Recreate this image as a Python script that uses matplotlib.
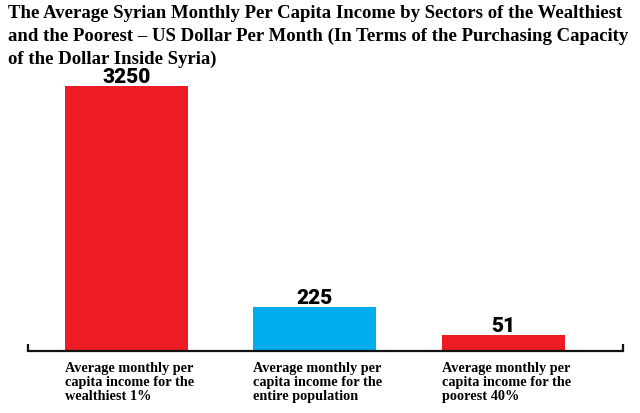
import numpy as np
import matplotlib
matplotlib.use("Agg")
import matplotlib.pyplot as plt

# data
categories = ["Average monthly per\ncapita income for the\nwealthiest 1%",
              "Average monthly per\ncapita income for the\nentire population",
              "Average monthly per\ncapita income for the\npoorest 40%"]
values = [3250, 225, 51]
colors = ["#ED1C24", "#00AEEF", "#ED1C24"]

title = ("The Average Syrian Monthly Per Capita Income by Sectors of the Wealthiest\n"
         "and the Poorest \u2013 US Dollar Per Month (In Terms of the Purchasing Capacity\n"
         "of the Dollar Inside Syria)")

fig = plt.figure(figsize=(6.4, 4.14), dpi=100)
# axes placed so the baseline sits where the original one is
ax = fig.add_axes([28/640, 62/414, 595/640, 265/414])

# the original bars are not drawn to a linear scale, a power scale is close
p = 0.67
ax.set_yscale("function", functions=(lambda v: np.sign(v)*np.abs(v)**p,
                                     lambda v: np.sign(v)*np.abs(v)**(1/p)))

x = np.arange(len(values))
w = 0.653
bars = ax.bar(x, values, width=w, color=colors)
ax.set_xlim(-0.523, 2.637)
ax.set_ylim(0, max(values))

for b, v in zip(bars, values):
    ax.text(b.get_x() + b.get_width()/2, v, str(v), ha="center", va="bottom",
            fontsize=15, fontweight="heavy", family=["Roboto", "DejaVu Sans"],
            clip_on=False)

for s in ["top", "left", "right"]:
    ax.spines[s].set_visible(False)
ax.spines["bottom"].set_linewidth(1.6)
ax.spines["bottom"].set_color("#111111")
# little end ticks on the base line
ax.plot([0, 0], [0, 0.028], transform=ax.transAxes, color="#111111", lw=1.6,
        clip_on=False, solid_capstyle="butt")
ax.plot([1, 1], [0, 0.028], transform=ax.transAxes, color="#111111", lw=1.6,
        clip_on=False, solid_capstyle="butt")

ax.set_yticks([])
ax.set_xticks(x - w/2)
ax.set_xticklabels(categories, ha="left", fontsize=10.3, fontweight="bold",
                   family="Liberation Serif", linespacing=1.12)
ax.tick_params(axis="x", length=0, pad=7)

fig.text(8/640, 1 - 5/414, title, ha="left", va="top", fontsize=13.5,
         fontweight="bold", family="Liberation Serif", linespacing=1.42)

fig.savefig("out.png", dpi=100)
